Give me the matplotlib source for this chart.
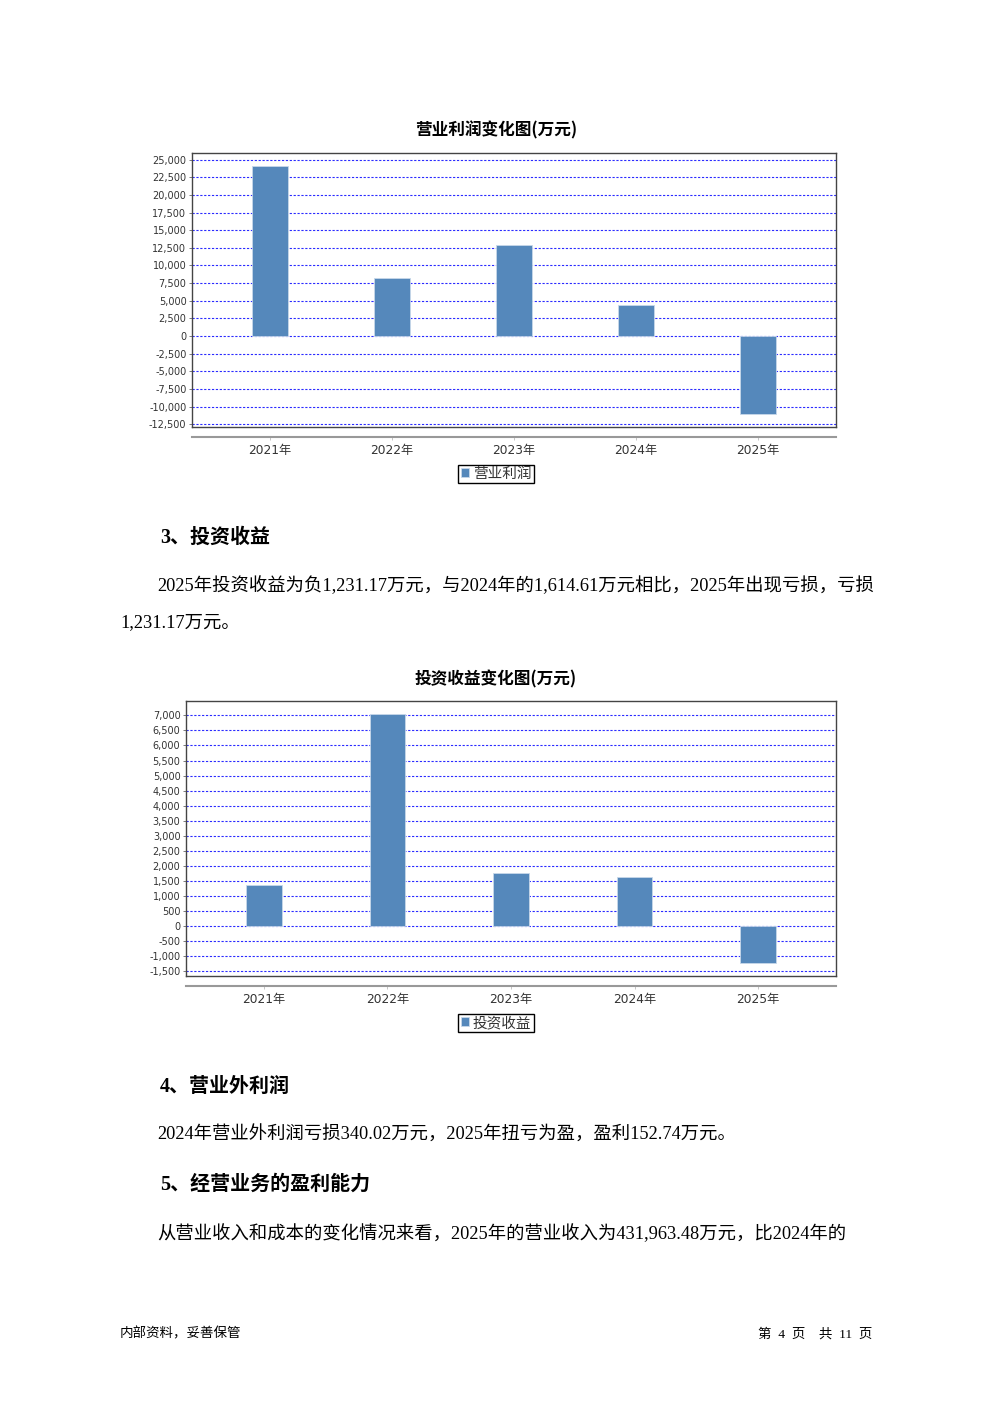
import matplotlib
matplotlib.use("Agg")
import matplotlib.pyplot as plt
from matplotlib.ticker import FixedLocator

plt.rcParams['font.family'] = ['Liberation Serif', 'Noto Sans CJK SC', 'DejaVu Sans']

W, H = 992, 1403

# ---------------- data ----------------
years = ["2021年", "2022年", "2023年", "2024年", "2025年"]
op_profit = [24150, 8290, 12850, 4380, -11020]
op_ticks = [25000, 22500, 20000, 17500, 15000, 12500, 10000, 7500, 5000, 2500, 0,
            -2500, -5000, -7500, -10000, -12500]
inv_income = [1372, 7046, 1770, 1614.61, -1231.17]
inv_ticks = [7000, 6500, 6000, 5500, 5000, 4500, 4000, 3500, 3000, 2500, 2000,
             1500, 1000, 500, 0, -500, -1000, -1500]

title1 = "营业利润变化图(万元)"
legend1 = "营业利润"
title2 = "投资收益变化图(万元)"
legend2 = "投资收益"

heading3 = "3、投资收益"
para3_l1 = "2025年投资收益为负1,231.17万元，与2024年的1,614.61万元相比，2025年出现亏损，亏损"
para3_l2 = "1,231.17万元。"
heading4 = "4、营业外利润"
para4 = "2024年营业外利润亏损340.02万元，2025年扭亏为盈，盈利152.74万元。"
heading5 = "5、经营业务的盈利能力"
para5 = "从营业收入和成本的变化情况来看，2025年的营业收入为431,963.48万元，比2024年的"
footer_left = "内部资料，妥善保管"
footer_right = "第  4  页    共  11  页"

BAR = "#5588bb"
SANS = ['DejaVu Sans', 'Noto Sans CJK SC']
CJK = ['Noto Sans CJK SC', 'DejaVu Sans']

fig = plt.figure(figsize=(W / 100, H / 100), dpi=100)
fig.patch.set_facecolor("white")


def fax(x0, y0, x1, y1, **kw):
    return fig.add_axes([x0 / W, 1 - y1 / H, (x1 - x0) / W, (y1 - y0) / H], **kw)


def fmt(v):
    return f"{v:,.0f}"


def bar_chart(box, line_y, title, title_y, values, ticks, ylim, xlim, width, leg_label, leg_y):
    x0, y0, x1, y1 = box
    ax = fax(x0, y0, x1, y1)
    xs = list(range(len(years)))
    bars = ax.bar(xs, values, width=width, color=BAR, edgecolor="#c8d8ea", linewidth=0.6,
                  zorder=3, label=leg_label)
    ax.set_xlim(*xlim)
    ax.set_ylim(*ylim)
    ax.yaxis.set_major_locator(FixedLocator(ticks))
    ax.set_yticklabels([fmt(t) for t in ticks], fontsize=7, color="#333333", family=SANS)
    ax.tick_params(axis="y", length=2, width=0.6, color="#666666", pad=2)
    ax.set_xticks([])
    for t in ticks:
        ax.axhline(t, color="#2b2bff", lw=0.8, ls=(0, (2, 1.5)), zorder=1)
    for s in ax.spines.values():
        s.set_color("#444444")
        s.set_linewidth(1.0)
    # category axis (offset)
    cax = fax(x0, line_y, x1, line_y + 0.01)
    cax.set_xlim(*xlim)
    cax.set_yticks([])
    for k in ("top", "left", "right"):
        cax.spines[k].set_visible(False)
    cax.spines["bottom"].set_color("#999999")
    cax.spines["bottom"].set_linewidth(1.5)
    cax.set_xticks(xs)
    cax.set_xticklabels(years, fontsize=8.8, color="#333333", family=SANS)
    cax.tick_params(axis="x", length=2, width=0.6, color="#bbbbbb", pad=3)
    cax.patch.set_alpha(0)
    fig.text(496 / W, 1 - title_y / H, title,
             ha="center", va="center", fontsize=12, fontweight="bold", family=CJK)
    leg = fig.legend(handles=[bars], labels=[leg_label], loc="center",
                     bbox_to_anchor=(496 / W, 1 - leg_y / H), fancybox=False,
                     edgecolor="black", framealpha=1, prop={"family": CJK, "size": 10.5},
                     handlelength=0.55, handleheight=0.55, handletextpad=0.3,
                     borderpad=0.15, borderaxespad=0)
    leg.get_frame().set_linewidth(1.0)
    for t in leg.get_texts():
        t.set_color("#333333")
    return ax


bar_chart((192, 153, 836, 427), 437, title1, 130, op_profit, op_ticks,
          (-12900, 25940), (-0.638, 4.638), 0.295, legend1, 474)
bar_chart((186, 701, 836, 976), 986, title2, 679, inv_income, inv_ticks,
          (-1659, 7478), (-0.63, 4.63), 0.29, legend2, 1023)

# ---------------- text ----------------
def txt(x, y, s, size, bold=False, ha="left"):
    fig.text(x / W, 1 - y / H, s, ha=ha, va="center", fontsize=size,
             fontweight="bold" if bold else "normal", color="black")

BODY = 13.2
HEAD = 14.4
txt(160, 538, heading3, HEAD, bold=True)
txt(157, 586, para3_l1, BODY)
txt(120, 623, para3_l2, BODY)
txt(160, 1087, heading4, HEAD, bold=True)
txt(157, 1135, para4, BODY)
txt(160, 1185, heading5, HEAD, bold=True)
txt(157, 1234, para5, BODY)
txt(120, 1334, footer_left, 9.7)
txt(872, 1334, footer_right, 9.7, ha="right")

fig.savefig("out.png", dpi=100, facecolor="white")
